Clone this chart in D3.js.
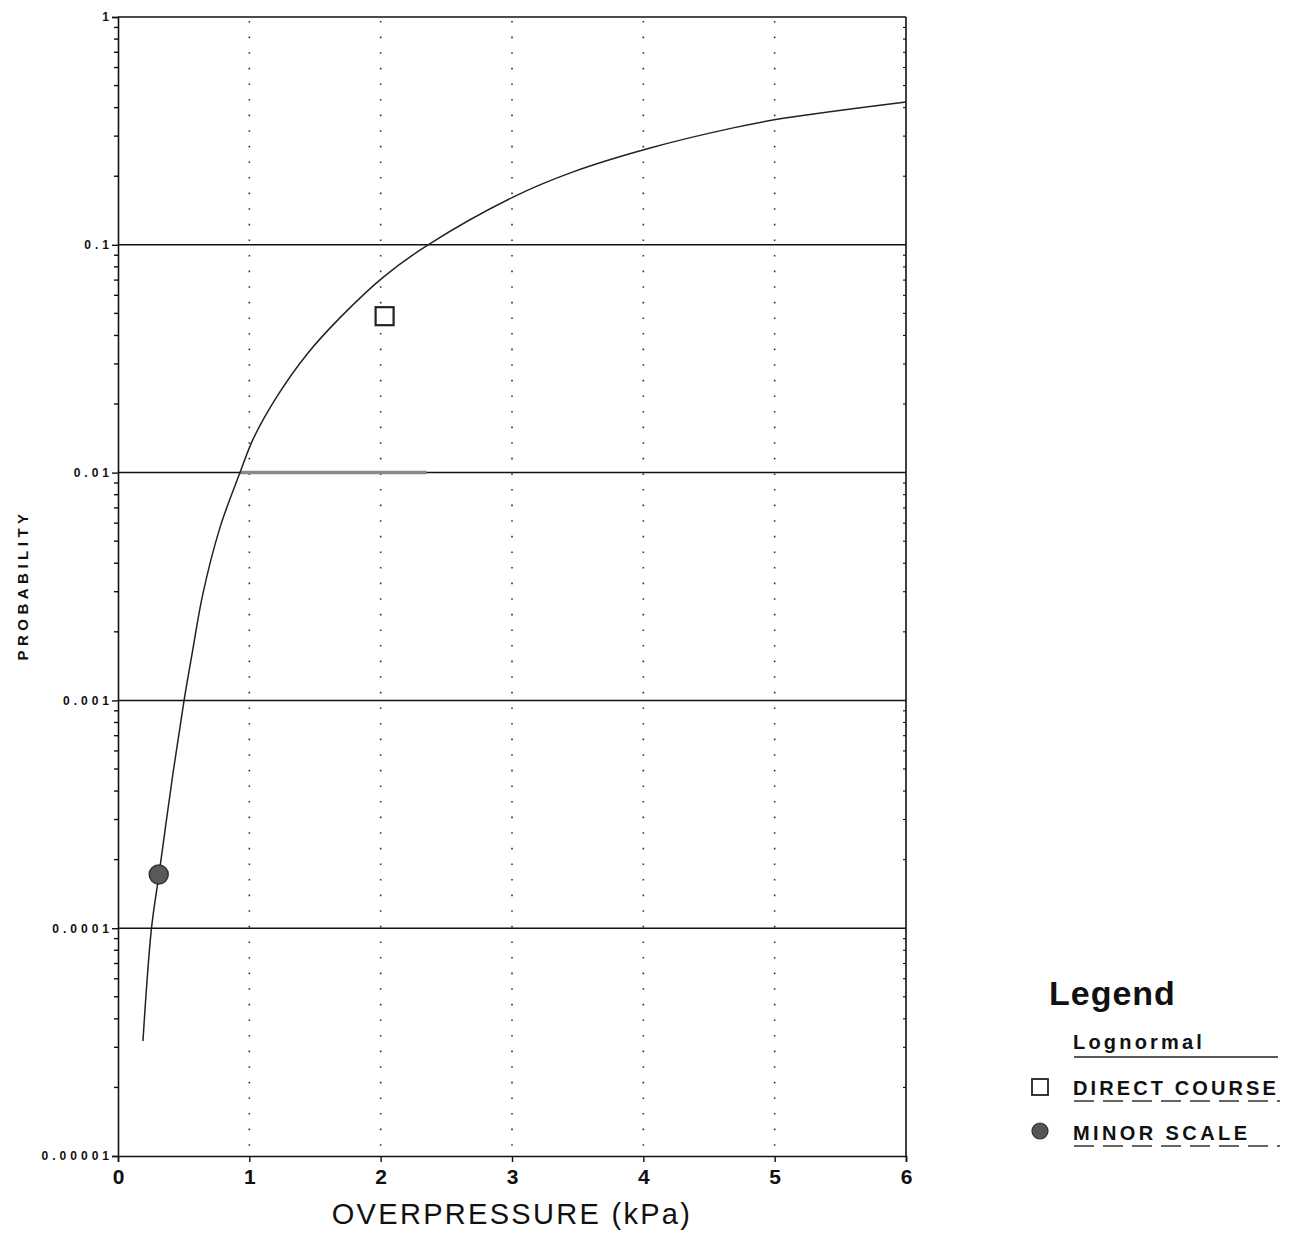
<!DOCTYPE html>
<html>
<head>
<meta charset="utf-8">
<script src="https://cdn.jsdelivr.net/npm/d3@7/dist/d3.min.js"></script>
<style>
  html, body { margin: 0; padding: 0; background: #fff; }
  svg { display: block; }
  text { font-family: "Liberation Sans", Arial, Helvetica, sans-serif; fill: #111; }
</style>
</head>
<body>
<svg id="chart" width="1290" height="1240"></svg>
<script>
// ---- data ----
const xTicks = [0, 1, 2, 3, 4, 5, 6];
const yTicks = [1, 0.1, 0.01, 0.001, 0.0001, 0.00001];
const yTickLabels = ["1", "0.1", "0.01", "0.001", "0.0001", "0.00001"];
const xGrid = [1, 2, 3, 4, 5];

// lognormal fitted curve (overpressure kPa, probability)
const curveX = [0.19, 0.255, 0.312, 0.419, 0.503, 0.564, 0.647, 0.777, 0.929, 1.028, 1.211, 1.439, 1.691, 2.018, 2.361, 3.008, 3.465, 4.052, 4.684, 5.065, 6.0];
const curveY = [3.2e-5, 1.0e-4, 1.72e-4, 4.8e-4, 1.0e-3, 1.6e-3, 2.95e-3, 5.75e-3, 1.0e-2, 1.40e-2, 2.16e-2, 3.31e-2, 4.79e-2, 7.2e-2, 0.100, 0.162, 0.209, 0.266, 0.326, 0.359, 0.424];

// observed points
const directCourse = [{ x: 2.03, p: 0.0486 }];
const minorScale = [{ x: 0.31, p: 1.72e-4 }];

// faint grey trace along the 0.01 grid line
const greyTrace = [{ x: 0.93, p: 0.01 }, { x: 2.35, p: 0.01 }];

const legendItems = ["DIRECT COURSE", "MINOR SCALE"];

// ---- layout ----
const svg = d3.select("#chart");
const mLeft = 118, mRight = 906, mTop = 17, mBottom = 1156;

const x = d3.scaleLinear().domain([0, 6]).range([mLeft, mRight]);
const y = d3.scaleLog().domain([1e-5, 1]).range([mBottom, mTop]);

// vertical dotted grid
svg.append("g").selectAll("line").data(xGrid).join("line")
  .attr("x1", d => x(d)).attr("x2", d => x(d))
  .attr("y1", mTop + 4).attr("y2", mBottom)
  .attr("stroke", "#333").attr("stroke-width", 1.6)
  .attr("stroke-dasharray", "1.6,14");

// horizontal decade grid
svg.append("g").selectAll("line").data(yTicks.slice(1, -1)).join("line")
  .attr("x1", mLeft).attr("x2", mRight)
  .attr("y1", d => y(d)).attr("y2", d => y(d))
  .attr("stroke", "#111").attr("stroke-width", 1.5);

// grey trace
svg.append("line")
  .attr("x1", x(greyTrace[0].x)).attr("x2", x(greyTrace[1].x))
  .attr("y1", y(greyTrace[0].p)).attr("y2", y(greyTrace[1].p))
  .attr("stroke", "#8a8a8a").attr("stroke-width", 3.5);

// frame: top and right
svg.append("line").attr("x1", mLeft).attr("x2", mRight).attr("y1", y(1)).attr("y2", y(1))
  .attr("stroke", "#111").attr("stroke-width", 1.6);
svg.append("line").attr("x1", mRight).attr("x2", mRight).attr("y1", y(1)).attr("y2", y(1e-5))
  .attr("stroke", "#111").attr("stroke-width", 1.6);

// minor ticks (left and right)
const minor = [];
for (let e = -5; e < 0; e++) for (let m = 2; m <= 9; m++) minor.push(m * Math.pow(10, e));
svg.append("g").selectAll("line").data(minor).join("line")
  .attr("x1", mLeft - 4).attr("x2", mLeft)
  .attr("y1", d => y(d)).attr("y2", d => y(d))
  .attr("stroke", "#111").attr("stroke-width", 1.4);
svg.append("g").selectAll("line").data(minor).join("line")
  .attr("x1", mRight - 3).attr("x2", mRight)
  .attr("y1", d => y(d)).attr("y2", d => y(d))
  .attr("stroke", "#111").attr("stroke-width", 1.1);

// y axis
const yAxis = d3.axisLeft(y).tickValues(yTicks)
  .tickFormat((d, i) => yTickLabels[i]).tickSize(6).tickPadding(-1);
const gy = svg.append("g").attr("transform", `translate(${mLeft},0)`).call(yAxis);
gy.select(".domain").attr("stroke", "#111").attr("stroke-width", 1.6);
gy.selectAll(".tick line").attr("stroke", "#111").attr("stroke-width", 1.4);
gy.selectAll(".tick text")
  .style("font-family", '"Liberation Sans", Arial, sans-serif')
  .style("font-size", "12px").style("font-weight", "bold")
  .style("letter-spacing", "4px").attr("fill", "#111");

// x axis
const xAxis = d3.axisBottom(x).tickValues(xTicks).tickFormat(d3.format("d"))
  .tickSize(6).tickPadding(7);
const gx = svg.append("g").attr("transform", `translate(0,${mBottom})`).call(xAxis);
gx.select(".domain").attr("stroke", "#111").attr("stroke-width", 1.6);
gx.selectAll(".tick line").attr("stroke", "#111").attr("stroke-width", 1.4);
gx.selectAll(".tick text")
  .style("font-family", '"Liberation Sans", Arial, sans-serif')
  .style("font-size", "21px").style("font-weight", "bold").attr("fill", "#111");

// axis titles
svg.append("text")
  .attr("x", 512).attr("y", 1224)
  .attr("text-anchor", "middle")
  .style("font-size", "29px").style("letter-spacing", "2.3px")
  .text("OVERPRESSURE (kPa)");
svg.append("text")
  .attr("transform", `translate(28,${585}) rotate(-90)`)
  .attr("text-anchor", "middle")
  .style("font-size", "15px").style("font-weight", "bold").style("letter-spacing", "4.5px")
  .text("PROBABILITY");

// curve
const pts = curveX.map((v, i) => [v, curveY[i]]);
svg.append("path").datum(pts)
  .attr("d", d3.line().x(d => x(d[0])).y(d => y(d[1])).curve(d3.curveCatmullRom.alpha(0.5)))
  .attr("fill", "none").attr("stroke", "#222").attr("stroke-width", 1.5);

// points
svg.append("g").selectAll("rect").data(directCourse).join("rect")
  .attr("x", d => x(d.x) - 9).attr("y", d => y(d.p) - 9)
  .attr("width", 18).attr("height", 18)
  .attr("fill", "#fff").attr("stroke", "#222").attr("stroke-width", 2.2);
svg.append("g").selectAll("circle").data(minorScale).join("circle")
  .attr("cx", d => x(d.x)).attr("cy", d => y(d.p)).attr("r", 9.5)
  .attr("fill", "#5a5a5a").attr("stroke", "#333").attr("stroke-width", 1.5);

// legend
const lg = svg.append("g");
lg.append("text").attr("x", 1049).attr("y", 1005)
  .style("font-size", "34px").style("font-weight", "bold").style("letter-spacing", "1px").text("Legend");
lg.append("text").attr("x", 1073).attr("y", 1049)
  .style("font-size", "20px").style("font-weight", "bold").style("letter-spacing", "3.2px")
  .text("Lognormal");
lg.append("line").attr("x1", 1074).attr("x2", 1278).attr("y1", 1057).attr("y2", 1057)
  .attr("stroke", "#222").attr("stroke-width", 1.4);

const rowY = [1095, 1140];
const rowSpacing = [3.1, 3.4];
legendItems.forEach((name, i) => {
  lg.append("text").attr("x", 1073).attr("y", rowY[i])
    .style("font-size", "20px").style("font-weight", "bold").style("letter-spacing", rowSpacing[i] + "px")
    .text(name);
  lg.append("line").attr("x1", 1074).attr("x2", 1280).attr("y1", rowY[i] + 6).attr("y2", rowY[i] + 6)
    .attr("stroke", "#333").attr("stroke-width", 1.3).attr("stroke-dasharray", "20,9");
});
lg.append("rect").attr("x", 1032).attr("y", 1079).attr("width", 16).attr("height", 16)
  .attr("fill", "#fff").attr("stroke", "#222").attr("stroke-width", 1.8);
lg.append("circle").attr("cx", 1040).attr("cy", 1131).attr("r", 8)
  .attr("fill", "#555").attr("stroke", "#333").attr("stroke-width", 1.2);
</script>
</body>
</html>
